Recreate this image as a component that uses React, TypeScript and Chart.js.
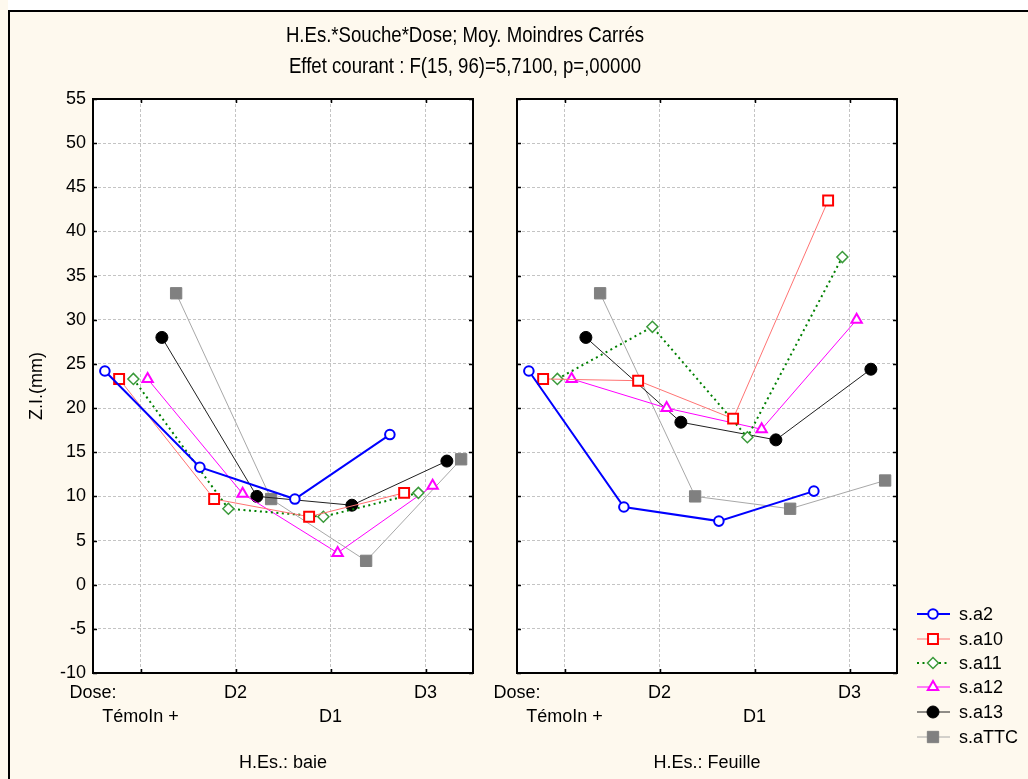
import React, { useEffect, useRef } from 'react';
import { Chart, registerables } from 'chart.js';
Chart.register(...registerables);

// ---- data ----
const doseLabels = ['TémoIn +', 'D2', 'D1', 'D3'];
const seriesNames = ['s.a2', 's.a10', 's.a11', 's.a12', 's.a13', 's.aTTC'];
const panelTitles = ['H.Es.: baie', 'H.Es.: Feuille'];
const titleLine1 = 'H.Es.*Souche*Dose; Moy. Moindres Carrés';
const titleLine2 = 'Effet courant : F(15, 96)=5,7100, p=,00000';
const yAxisTitle = 'Z.I.(mm)';
const yMin = -10;
const yMax = 55;
const yStep = 5;

// H.Es.: baie
const baieA2 = [24.2, 13.3, 9.7, 17.0];
const baieA10 = [23.3, 9.7, 7.7, 10.4];
const baieA11 = [23.3, 8.6, 7.7, 10.4];
const baieA12 = [23.3, 10.3, 3.6, 11.2];
const baieA13 = [28.0, 10.0, 9.0, 14.0];
const baieATTC = [33.0, 9.7, 2.7, 14.2];

// H.Es.: Feuille
const feuilleA2 = [24.2, 8.8, 7.2, 10.6];
const feuilleA10 = [23.3, 23.1, 18.8, 43.5];
const feuilleA11 = [23.3, 29.2, 16.7, 37.1];
const feuilleA12 = [23.3, 20.0, 17.6, 30.0];
const feuilleA13 = [28.0, 18.4, 16.4, 24.4];
const feuilleATTC = [33.0, 10.0, 8.6, 11.8];

// ---- styles ----
const FONT = '"Liberation Sans", Arial, sans-serif';
const FS = 18;
const styles = [
  { line: '#0000FF', lw: 2, dash: [] as number[], ps: 'circle', r: 4.8, pb: '#0000FF', pf: '#FFFFFF', pbw: 2 },
  { line: '#FF7373', lw: 1, dash: [] as number[], ps: 'rect', r: 7, pb: '#FF0000', pf: '#FFFFFF', pbw: 2 },
  { line: '#008000', lw: 2, dash: [2, 3.5], ps: 'rectRot', r: 5.5, pb: '#3A9A3A', pf: '#FFFFFF', pbw: 1.5 },
  { line: '#FF00FF', lw: 1, dash: [] as number[], ps: 'triangle', r: 6, pb: '#FF00FF', pf: '#FFFFFF', pbw: 2 },
  { line: '#202020', lw: 1, dash: [] as number[], ps: 'circle', r: 6, pb: '#000000', pf: '#000000', pbw: 1 },
  { line: '#A8A8A8', lw: 1, dash: [] as number[], ps: 'rect', r: 8, pb: '#808080', pf: '#808080', pbw: 1 },
];
const OFFSET = 0.15;

// layout (page pixels)
const W = 1028;
const H = 779;
const PLOT_TOP = 99;
const PLOT_BOTTOM = 673;
const PANELS = [
  { left: 93, right: 473 },
  { left: 517, right: 897 },
];

function drawMarker(ctx: CanvasRenderingContext2D, s: any, x: number, y: number) {
  ctx.save();
  ctx.setLineDash([]);
  ctx.lineWidth = s.pbw;
  ctx.strokeStyle = s.pb;
  ctx.fillStyle = s.pf;
  ctx.beginPath();
  const r = s.r;
  if (s.ps === 'circle') {
    ctx.arc(x, y, r, 0, Math.PI * 2);
  } else if (s.ps === 'rect') {
    const h = r * Math.SQRT1_2;
    ctx.rect(x - h, y - h, 2 * h, 2 * h);
  } else if (s.ps === 'rectRot') {
    ctx.moveTo(x - r, y);
    ctx.lineTo(x, y + r);
    ctx.lineTo(x + r, y);
    ctx.lineTo(x, y - r);
    ctx.closePath();
  } else if (s.ps === 'triangle') {
    const a = Math.PI / 2;
    ctx.moveTo(x + Math.cos(-a) * r, y + Math.sin(-a) * r);
    ctx.lineTo(x + Math.cos(-a + (2 * Math.PI) / 3) * r, y + Math.sin(-a + (2 * Math.PI) / 3) * r);
    ctx.lineTo(x + Math.cos(-a + (4 * Math.PI) / 3) * r, y + Math.sin(-a + (4 * Math.PI) / 3) * r);
    ctx.closePath();
  }
  ctx.fill();
  ctx.stroke();
  ctx.restore();
}

function makeDecor(panel: number) {
  return {
    id: 'decor' + panel,
    beforeDraw(chart: any) {
      const { ctx, chartArea } = chart;
      ctx.save();
      ctx.fillStyle = '#FFFFFF';
      ctx.fillRect(chartArea.left, chartArea.top, chartArea.right - chartArea.left, chartArea.bottom - chartArea.top);
      ctx.restore();
    },
    afterDraw(chart: any) {
      const { ctx, chartArea } = chart;
      const xs = chart.scales.x;
      const ys = chart.scales.y;
      ctx.save();
      // frame
      ctx.strokeStyle = '#000000';
      ctx.lineWidth = 2;
      ctx.setLineDash([]);
      ctx.strokeRect(chartArea.left, chartArea.top, chartArea.right - chartArea.left, chartArea.bottom - chartArea.top);
      // inner tick marks
      ctx.lineWidth = 1.5;
      ctx.beginPath();
      for (let i = 0; i < doseLabels.length; i++) {
        const px = Math.round(xs.getPixelForValue(i)) + 0.5;
        ctx.moveTo(px, chartArea.top);
        ctx.lineTo(px, chartArea.top + 4);
        ctx.moveTo(px, chartArea.bottom);
        ctx.lineTo(px, chartArea.bottom - 4);
      }
      for (let v = yMin; v <= yMax; v += yStep) {
        const py = Math.round(ys.getPixelForValue(v)) + 0.5;
        ctx.moveTo(chartArea.left, py);
        ctx.lineTo(chartArea.left + 4, py);
        ctx.moveTo(chartArea.right, py);
        ctx.lineTo(chartArea.right - 4, py);
      }
      ctx.stroke();

      ctx.fillStyle = '#000000';
      ctx.textBaseline = 'middle';
      ctx.textAlign = 'center';
      ctx.font = FS + 'px ' + FONT;
      ctx.fillText(panelTitles[panel], (chartArea.left + chartArea.right) / 2, 763);

      if (panel === 0) {
        ctx.font = '18.6px ' + FONT;
        [titleLine1, titleLine2].forEach((t, k) => {
          ctx.save();
          ctx.translate(465, k === 0 ? 36 : 67);
          ctx.scale(1, 1.18);
          ctx.fillText(t, 0, 0);
          ctx.restore();
        });
        ctx.save();
        ctx.translate(37, (chartArea.top + chartArea.bottom) / 2);
        ctx.rotate(-Math.PI / 2);
        ctx.font = FS + 'px ' + FONT;
        ctx.fillText(yAxisTitle, 0, 0);
        ctx.restore();
      } else {
        // legend
        const rows = [614, 639, 663, 687, 712, 737];
        ctx.font = FS + 'px ' + FONT;
        ctx.textAlign = 'left';
        seriesNames.forEach((name, i) => {
          const s = styles[i];
          const y = rows[i];
          ctx.save();
          ctx.strokeStyle = s.line;
          ctx.lineWidth = s.lw;
          ctx.setLineDash(s.dash);
          ctx.beginPath();
          ctx.moveTo(917, y);
          ctx.lineTo(950, y);
          ctx.stroke();
          ctx.restore();
          drawMarker(ctx, s, 933, y);
          ctx.fillStyle = '#000000';
          ctx.fillText(name, 959, y + 1);
        });
      }
      ctx.restore();
    },
  };
}

function makeConfig(values: number[][], panel: number): any {
  const datasets = values.map((vals, i) => {
    const s = styles[i];
    return {
      label: seriesNames[i],
      data: vals.map((v, j) => ({ x: j + (i - 2.5) * OFFSET, y: v })),
      borderColor: s.line,
      borderWidth: s.lw,
      borderDash: s.dash,
      pointStyle: s.ps,
      pointRadius: s.r,
      pointBorderColor: s.pb,
      pointBackgroundColor: s.pf,
      pointBorderWidth: s.pbw,
      fill: false,
      tension: 0,
    };
  });
  const p = PANELS[panel];
  return {
    type: 'line',
    data: { datasets },
    plugins: [makeDecor(panel)],
    options: {
      responsive: false,
      animation: false,
      events: [],
      layout: { padding: { top: PLOT_TOP, bottom: 0, left: panel === 0 ? 0 : p.left, right: W - p.right } },
      plugins: { legend: { display: false }, tooltip: { enabled: false }, title: { display: false } },
      scales: {
        x: {
          type: 'linear',
          min: -0.5,
          max: 3.5,
          afterBuildTicks: (scale: any) => {
            scale.ticks = [-0.5, 0, 1, 2, 3].map((v) => ({ value: v }));
          },
          afterFit: (scale: any) => {
            scale.height = H - PLOT_BOTTOM;
          },
          ticks: {
            autoSkip: false,
            maxRotation: 0,
            padding: 8,
            color: '#000000',
            font: { family: FONT, size: FS, lineHeight: 24 / FS },
            callback: (v: number) => {
              if (v === -0.5) return ['Dose:', ''];
              const idx = Math.round(v);
              const lab = doseLabels[idx];
              return idx % 2 === 0 ? ['', lab] : [lab, ''];
            },
          },
          grid: { color: '#C4C4C4', drawTicks: false, lineWidth: 1 },
          border: { display: false, dash: [3, 2] },
        },
        y: {
          min: yMin,
          max: yMax,
          afterFit: (scale: any) => {
            scale.width = panel === 0 ? p.left : 0;
          },
          ticks: {
            display: panel === 0,
            stepSize: yStep,
            padding: 7,
            color: '#000000',
            font: { family: FONT, size: FS },
          },
          grid: { color: '#C4C4C4', drawTicks: false, lineWidth: 1 },
          border: { display: false, dash: [3, 2] },
        },
      },
    },
  };
}

function Panel({ values, panel }: { values: number[][]; panel: number }) {
  const ref = useRef<HTMLCanvasElement | null>(null);
  useEffect(() => {
    if (!ref.current) return;
    const chart = new Chart(ref.current, makeConfig(values, panel));
    return () => chart.destroy();
  }, []);
  return (
    <canvas
      ref={ref}
      width={W}
      height={H}
      style={{ position: 'absolute', left: 0, top: 0, width: W, height: H }}
    />
  );
}

export default function App() {
  const baie = [baieA2, baieA10, baieA11, baieA12, baieA13, baieATTC];
  const feuille = [feuilleA2, feuilleA10, feuilleA11, feuilleA12, feuilleA13, feuilleATTC];
  return (
    <div style={{ position: 'fixed', left: 0, top: 0, width: W, height: H, background: '#FFFFFF', overflow: 'hidden' }}>
      <div
        style={{
          position: 'absolute',
          left: 8,
          top: 10,
          width: W + 20,
          height: H + 20,
          background: '#FEF9EE',
          borderLeft: '2px solid #000',
          borderTop: '2px solid #000',
        }}
      />
      <div style={{ position: 'absolute', left: 0, top: 0, width: 8, height: H, background: '#FEF9EE' }} />
      <Panel values={baie} panel={0} />
      <Panel values={feuille} panel={1} />
    </div>
  );
}
